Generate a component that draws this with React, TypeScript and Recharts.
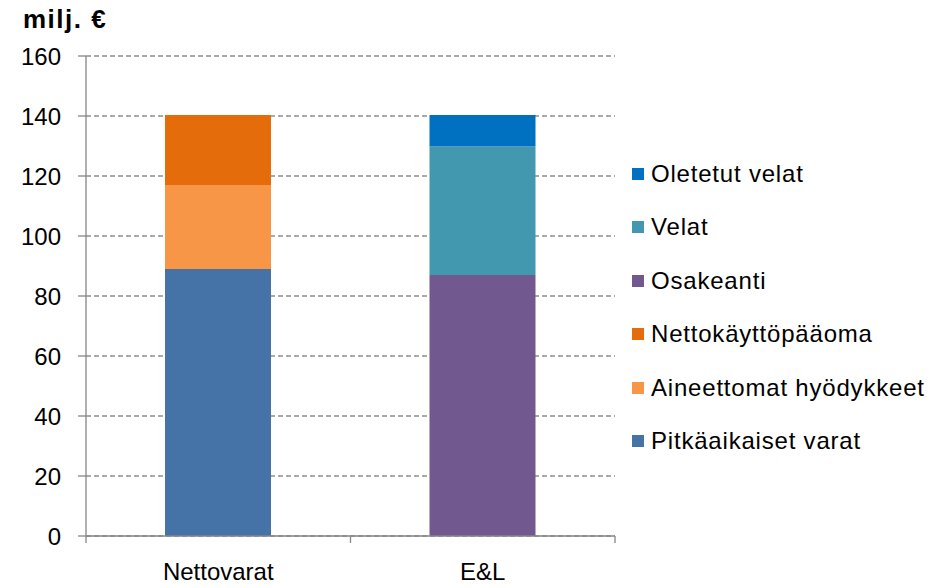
import React from "react";
import {
  BarChart,
  Bar,
  XAxis,
  YAxis,
  CartesianGrid,
  Legend,
} from "recharts";

const categories = ["Nettovarat", "E&L"];
const pitkaaikaisetVarat = [89, 0];
const aineettomatHyodykkeet = [28, 0];
const nettokayttopaaoma = [23.3, 0];
const osakeanti = [0, 87];
const velat = [0, 42.8];
const oletetutVelat = [0, 10.5];
const yTicks = [0, 20, 40, 60, 80, 100, 120, 140, 160];

const series = [
  { key: "pitka", name: "Pitkäaikaiset varat", values: pitkaaikaisetVarat, color: "#4573A7" },
  { key: "aineet", name: "Aineettomat hyödykkeet", values: aineettomatHyodykkeet, color: "#F79646" },
  { key: "netto", name: "Nettokäyttöpääoma", values: nettokayttopaaoma, color: "#E46C0A" },
  { key: "osake", name: "Osakeanti", values: osakeanti, color: "#71588F" },
  { key: "velat", name: "Velat", values: velat, color: "#4298AF" },
  { key: "oletetut", name: "Oletetut velat", values: oletetutVelat, color: "#0070C0" },
];

const data = categories.map((c, i) => {
  const row: Record<string, string | number> = { name: c };
  series.forEach((s) => {
    row[s.key] = s.values[i];
  });
  return row;
});

const FONT = "'Liberation Sans', Arial, sans-serif";
const AXIS = "#868686";

const CategoryTick = (props: any) => {
  const { x, y, payload, index } = props;
  const half = payload && payload.offset ? payload.offset : 0;
  return (
    <g>
      {index === 0 && (
        <line x1={x - half} x2={x - half} y1={y} y2={y + 7} stroke={AXIS} strokeWidth={1.3} />
      )}
      <line x1={x + half} x2={x + half} y1={y} y2={y + 7} stroke={AXIS} strokeWidth={1.3} />
      <text
        x={x}
        y={y + 27}
        dy="0.71em"
        textAnchor="middle"
        fill="#000"
        fontSize={24}
        fontFamily={FONT}
      >
        {payload.value}
      </text>
    </g>
  );
};

const LegendContent = () => (
  <div style={{ fontFamily: FONT }}>
    {[...series].reverse().map((s) => (
      <div
        key={s.key}
        style={{ display: "flex", alignItems: "center", height: 53.5 }}
      >
        <div style={{ width: 12, height: 12, background: s.color, marginRight: 7 }} />
        <span style={{ fontSize: 24, color: "#000", letterSpacing: 0.8, whiteSpace: "nowrap" }}>
          {s.name}
        </span>
      </div>
    ))}
  </div>
);

export default function App() {
  return (
    <div style={{ position: "absolute", left: 0, top: 0, width: 951, height: 588, background: "#fff" }}>
      <div
        style={{
          position: "absolute",
          left: 23,
          top: 6,
          fontFamily: FONT,
          fontWeight: "bold",
          fontSize: 26,
          lineHeight: "26px",
          letterSpacing: 1.5,
          color: "#000",
          zIndex: 2,
        }}
      >
        milj. €
      </div>
      <BarChart
        width={951}
        height={588}
        data={data}
        margin={{ top: 56, right: 336, bottom: 0, left: 26 }}
        barSize={106}
      >
        <CartesianGrid
          vertical={false}
          stroke="#8f8f8f"
          strokeWidth={1.4}
          strokeDasharray="5 3"
        />
        <XAxis
          dataKey="name"
          height={52}
          axisLine={{ stroke: AXIS, strokeWidth: 1.3 }}
          tickLine={false}
          tickSize={0}
          tickMargin={0}
          tick={<CategoryTick />}
        />
        <YAxis
          width={60}
          domain={[0, 160]}
          ticks={yTicks}
          axisLine={{ stroke: AXIS, strokeWidth: 1.3 }}
          tickLine={{ stroke: AXIS, strokeWidth: 1.3 }}
          tickSize={8}
          tickMargin={17}
          tick={{ fill: "#000", fontSize: 24, fontFamily: FONT }}
        />
        <Legend
          layout="vertical"
          align="center"
          verticalAlign="middle"
          content={LegendContent}
          wrapperStyle={{ position: "absolute", left: 632, top: 147, width: 320 }}
        />
        {series.map((s) => (
          <Bar
            key={s.key}
            dataKey={s.key}
            name={s.name}
            stackId="a"
            fill={s.color}
            isAnimationActive={false}
          />
        ))}
      </BarChart>
    </div>
  );
}
